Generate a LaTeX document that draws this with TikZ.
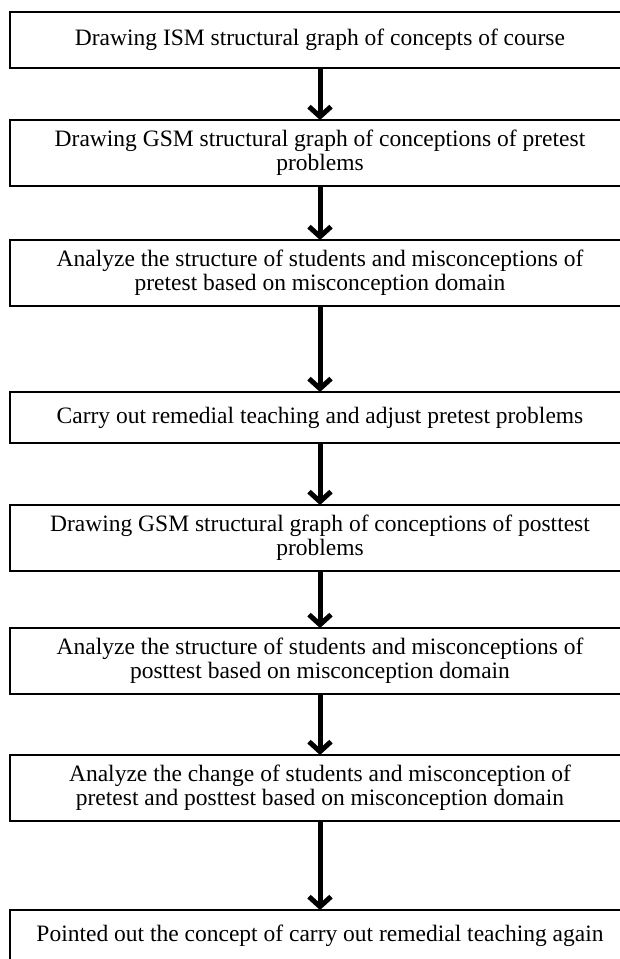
\documentclass[tikz,border=0pt]{standalone}
\usepackage{fontspec}
\setmainfont{Liberation Serif}
\usetikzlibrary{arrows.meta,positioning}

\begin{document}
\begin{tikzpicture}[x=1pt,y=-1pt,auto,
                    stage node/.style={rectangle,draw,line width=1.8pt,minimum width=620pt,
                      align=center,inner sep=0pt,outer sep=0pt,font=\fontsize{23.5}{24}\selectfont},
                    one line/.style={minimum height=51pt},
                    two line/.style={minimum height=66pt}]
  \useasboundingbox (0,0) rectangle (620,959);
  %flow of stages%
  \node[stage node,minimum height=56pt] (1) at (320,40) {Drawing ISM structural graph of concepts of course};
  \node[stage node,two line] (2) [below=52pt of 1] {Drawing GSM structural graph of conceptions of pretest\\problems};
  \node[stage node,two line] (3) [below=54pt of 2] {Analyze the structure of students and misconceptions of\\pretest based on misconception domain};
  \node[stage node,one line] (4) [below=86pt of 3] {Carry out remedial teaching and adjust pretest problems};
  \node[stage node,two line] (5) [below=62pt of 4] {Drawing GSM structural graph of conceptions of posttest\\problems};
  \node[stage node,two line] (6) [below=57pt of 5] {Analyze the structure of students and misconceptions of\\posttest based on misconception domain};
  \node[stage node,two line] (7) [below=61pt of 6] {Analyze the change of students and misconception of\\pretest and posttest based on misconception domain};
  \node[stage node,one line] (8) [below=89pt of 7] {Pointed out the concept of carry out remedial teaching again};

  \path[-{Straight Barb[length=10pt,width=22pt]},line width=5pt]
    (1) edge (2)
    (2) edge (3)
    (3) edge (4)
    (4) edge (5)
    (5) edge (6)
    (6) edge (7)
    (7) edge (8);
\end{tikzpicture}
\end{document}
